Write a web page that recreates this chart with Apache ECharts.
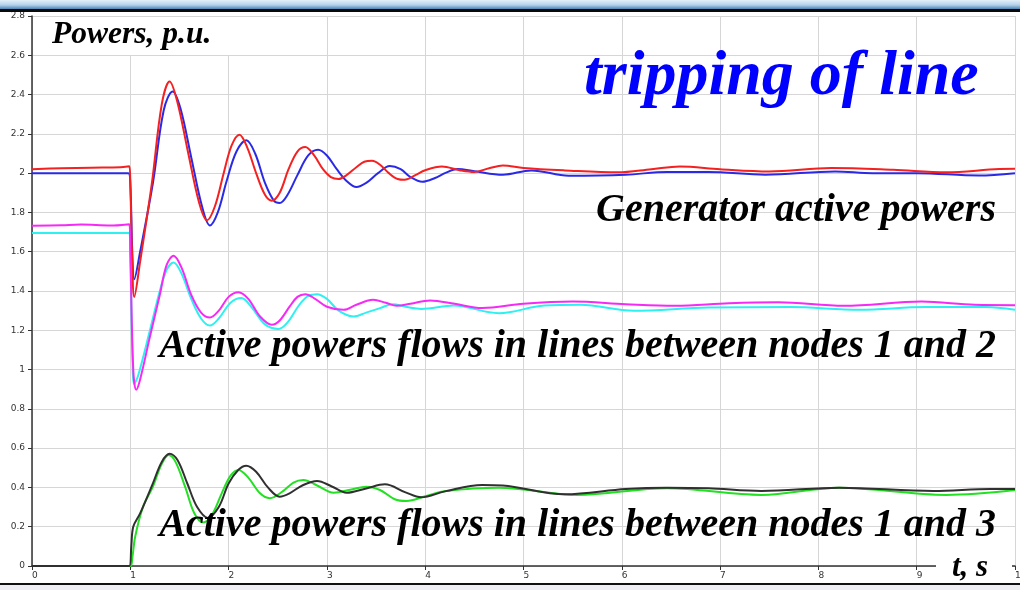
<!DOCTYPE html>
<html><head><meta charset="utf-8">
<script src="https://cdn.jsdelivr.net/npm/echarts@6/dist/echarts.min.js"></script>
<style>html,body{margin:0;padding:0;background:#fff;overflow:hidden}#c{width:1020px;height:590px}</style>
</head><body><div id="c"></div><script>
// time axis ticks (s) and power axis ticks (p.u.)
const xTicks = [0,1,2,3,4,5,6,7,8,9,10];
const yTicks = [0,0.2,0.4,0.6,0.8,1,1.2,1.4,1.6,1.8,2,2.2,2.4,2.6,2.8];

// Generator active powers [t, P]
const genRed = [[0,2.02],[0.3,2.025],[0.6,2.028],[0.9,2.03],[0.99,2.035],[1.0,1.95],[1.02,1.55],[1.04,1.37],[1.1,1.55],[1.22,1.95],[1.32,2.35],[1.40,2.467],[1.48,2.36],[1.59,2.1],[1.70,1.85],[1.78,1.76],[1.86,1.83],[1.95,2.0],[2.03,2.14],[2.11,2.196],[2.19,2.13],[2.28,2.0],[2.37,1.89],[2.44,1.86],[2.52,1.9],[2.61,2.02],[2.70,2.11],[2.78,2.133],[2.87,2.09],[2.96,2.02],[3.04,1.98],[3.12,1.97],[3.20,1.99],[3.30,2.03],[3.38,2.058],[3.46,2.063],[3.54,2.043],[3.63,2.0],[3.72,1.97],[3.79,1.966],[3.9,1.99],[4.0,2.015],[4.17,2.034],[4.35,2.015],[4.5,2.006],[4.65,2.025],[4.79,2.039],[5.0,2.026],[5.42,2.014],[5.96,2.004],[6.3,2.02],[6.59,2.034],[7.0,2.02],[7.5,2.009],[8.13,2.026],[8.76,2.017],[9.3,2.004],[9.84,2.021],[10,2.022]];
const genBlue = [[0,2.0],[0.5,2.0],[0.98,2.0],[1.0,1.95],[1.02,1.6],[1.04,1.46],[1.1,1.6],[1.23,1.95],[1.34,2.32],[1.43,2.416],[1.51,2.33],[1.62,2.08],[1.73,1.83],[1.81,1.734],[1.89,1.8],[1.98,1.96],[2.08,2.11],[2.18,2.167],[2.27,2.1],[2.37,1.95],[2.46,1.86],[2.52,1.848],[2.6,1.89],[2.7,1.99],[2.81,2.09],[2.91,2.119],[3.0,2.09],[3.1,2.02],[3.2,1.96],[3.30,1.929],[3.4,1.95],[3.52,2.0],[3.64,2.036],[3.75,2.02],[3.85,1.98],[3.97,1.956],[4.1,1.975],[4.2,2.0],[4.33,2.021],[4.5,2.01],[4.79,1.992],[5.08,2.014],[5.46,1.987],[6.04,1.992],[6.46,2.006],[6.88,2.006],[7.46,1.992],[8.17,2.009],[8.55,2.0],[9.0,2.0],[9.63,1.988],[10,2.0]];

// Active power flows, lines between nodes 1 and 2
const flow12Magenta = [[0,1.732],[0.3,1.735],[0.5,1.738],[0.8,1.733],[0.99,1.74],[1.0,1.6],[1.03,1.0],[1.06,0.897],[1.1,0.95],[1.2,1.168],[1.3,1.38],[1.37,1.533],[1.44,1.579],[1.52,1.52],[1.62,1.38],[1.72,1.29],[1.81,1.265],[1.9,1.3],[2.0,1.37],[2.10,1.394],[2.2,1.36],[2.32,1.27],[2.44,1.228],[2.52,1.25],[2.62,1.32],[2.70,1.37],[2.78,1.384],[2.88,1.36],[3.0,1.32],[3.17,1.304],[3.3,1.33],[3.47,1.355],[3.6,1.34],[3.71,1.325],[3.85,1.335],[4.05,1.352],[4.3,1.335],[4.58,1.313],[5.0,1.335],[5.5,1.346],[6.04,1.333],[6.54,1.325],[7.09,1.338],[7.59,1.343],[8.26,1.325],[9.05,1.346],[9.59,1.33],[10,1.328]];
const flow12Cyan = [[0,1.695],[0.99,1.695],[1.0,1.6],[1.02,1.1],[1.04,0.927],[1.08,0.97],[1.2,1.2],[1.3,1.4],[1.37,1.508],[1.44,1.545],[1.52,1.49],[1.62,1.36],[1.72,1.26],[1.81,1.224],[1.9,1.26],[2.02,1.34],[2.13,1.364],[2.23,1.32],[2.37,1.23],[2.51,1.207],[2.6,1.24],[2.72,1.33],[2.81,1.375],[2.90,1.384],[3.0,1.36],[3.12,1.3],[3.27,1.27],[3.4,1.29],[3.54,1.313],[3.67,1.333],[3.8,1.32],[3.96,1.309],[4.29,1.326],[4.75,1.287],[5.21,1.326],[5.58,1.33],[6.12,1.299],[6.88,1.316],[7.71,1.318],[8.42,1.304],[9.09,1.318],[9.7,1.318],[10,1.304]];

// Active power flows, lines between nodes 1 and 3
const flow13Black = [[0,0],[0.99,0],[1.01,0.1],[1.03,0.2],[1.1,0.268],[1.23,0.421],[1.32,0.53],[1.40,0.571],[1.48,0.54],[1.58,0.42],[1.68,0.3],[1.79,0.245],[1.9,0.3],[2.0,0.42],[2.1,0.49],[2.18,0.511],[2.28,0.48],[2.4,0.4],[2.52,0.353],[2.62,0.37],[2.75,0.41],[2.90,0.433],[3.05,0.405],[3.20,0.373],[3.4,0.395],[3.59,0.416],[3.8,0.375],[3.96,0.35],[4.2,0.38],[4.58,0.413],[4.79,0.41],[5.42,0.365],[6.04,0.392],[6.46,0.399],[6.88,0.396],[7.42,0.382],[8.21,0.399],[9.17,0.382],[9.75,0.392],[10,0.392]];
const flow13Green = [[0,0],[1.0,0],[1.02,0.04],[1.05,0.15],[1.13,0.302],[1.23,0.404],[1.32,0.52],[1.39,0.565],[1.46,0.53],[1.56,0.4],[1.65,0.27],[1.74,0.222],[1.83,0.26],[1.93,0.37],[2.02,0.46],[2.10,0.489],[2.2,0.45],[2.32,0.37],[2.42,0.345],[2.55,0.38],[2.66,0.425],[2.76,0.438],[2.9,0.41],[3.07,0.373],[3.25,0.39],[3.40,0.404],[3.54,0.387],[3.69,0.34],[3.81,0.331],[4.0,0.355],[4.21,0.382],[4.75,0.399],[5.54,0.362],[6.46,0.396],[7.42,0.362],[8.21,0.399],[9.30,0.362],[10,0.387]];

const FONT = '"Liberation Serif","Times New Roman",serif';
function line(data, color, z) {
  return { type: 'line', data: data, showSymbol: false, smooth: 0.35,
    lineStyle: { color: color, width: 2 }, itemStyle: { color: color }, z: z, silent: true, animation: false };
}
function note(text, x, y, size, color, align) {
  return { type: 'text', x: x, y: y, z: 50,
    style: { text: text, font: 'italic bold ' + size + 'px ' + FONT, fill: color,
      align: align, verticalAlign: 'middle' } };
}

const chart = echarts.init(document.getElementById('c'), null, { renderer: 'canvas' });
chart.setOption({
  animation: false,
  backgroundColor: '#fff',
  grid: { left: 32, right: 5, top: 16, bottom: 24, containLabel: false, outerBoundsMode: 'none' },
  xAxis: {
    type: 'value', min: xTicks[0], max: xTicks[xTicks.length - 1], interval: 1,
    axisLine: { lineStyle: { color: '#333', width: 1.5 } },
    axisTick: { show: true, length: 4, lineStyle: { color: '#333' } },
    axisLabel: { fontSize: 9, color: '#333', align: 'left', margin: 5, fontFamily: 'DejaVu Sans', hideOverlap: false },
    splitLine: { show: true, lineStyle: { color: '#d6d6d6', width: 1 } }
  },
  yAxis: {
    type: 'value', min: yTicks[0], max: yTicks[yTicks.length - 1], interval: 0.2,
    axisLine: { show: true, lineStyle: { color: '#333', width: 1.5 } },
    axisTick: { show: true, length: 4, lineStyle: { color: '#333' } },
    axisLabel: { fontSize: 9, color: '#333', margin: 7, padding: [0, 0, 7, 0], fontFamily: 'DejaVu Sans' },
    splitLine: { show: true, lineStyle: { color: '#d6d6d6', width: 1 } }
  },
  series: [
    line(genBlue, '#2a2ae6', 3),
    line(genRed, '#f52020', 4),
    line(flow12Cyan, '#2ef0f0', 3),
    line(flow12Magenta, '#f52af5', 4),
    line(flow13Green, '#22e022', 3),
    line(flow13Black, '#303030', 4)
  ],
  graphic: [
    { type: 'rect', shape: { x: 33, y: 17, width: 197, height: 38 }, style: { fill: '#fff' }, z: 40 },
    note('Powers, p.u.', 52, 35, 31.5, '#000', 'left'),
    note('tripping of line', 584, 77, 64, '#0000ff', 'left'),
    note('Generator active powers', 996, 211, 40, '#000', 'right'),
    note('Active powers flows in lines between nodes 1 and 2', 996, 347, 40, '#000', 'right'),
    note('Active powers flows in lines between nodes 1 and 3', 996, 526, 40, '#000', 'right'),
    { type: 'rect', shape: { x: 936, y: 556, width: 76, height: 26 }, style: { fill: '#fff' }, z: 45 },
    note('t, s', 952, 568, 31, '#000', 'left'),
    { type: 'rect', shape: { x: 0, y: 0, width: 1020, height: 9 }, z: 60,
      style: { fill: new echarts.graphic.LinearGradient(0, 0, 0, 1, [
        { offset: 0, color: '#e4f0fa' }, { offset: 0.55, color: '#b3d2ea' }, { offset: 1, color: '#4f84b6' }]) } },
    { type: 'rect', shape: { x: 0, y: 9, width: 1020, height: 3 }, style: { fill: '#0a0a0a' }, z: 60 },
    { type: 'rect', shape: { x: 0, y: 583, width: 1020, height: 2 }, style: { fill: '#111' }, z: 60 },
    { type: 'rect', shape: { x: 0, y: 585, width: 1020, height: 5 }, style: { fill: '#eeeef3' }, z: 60 }
  ]
});
</script></body></html>
